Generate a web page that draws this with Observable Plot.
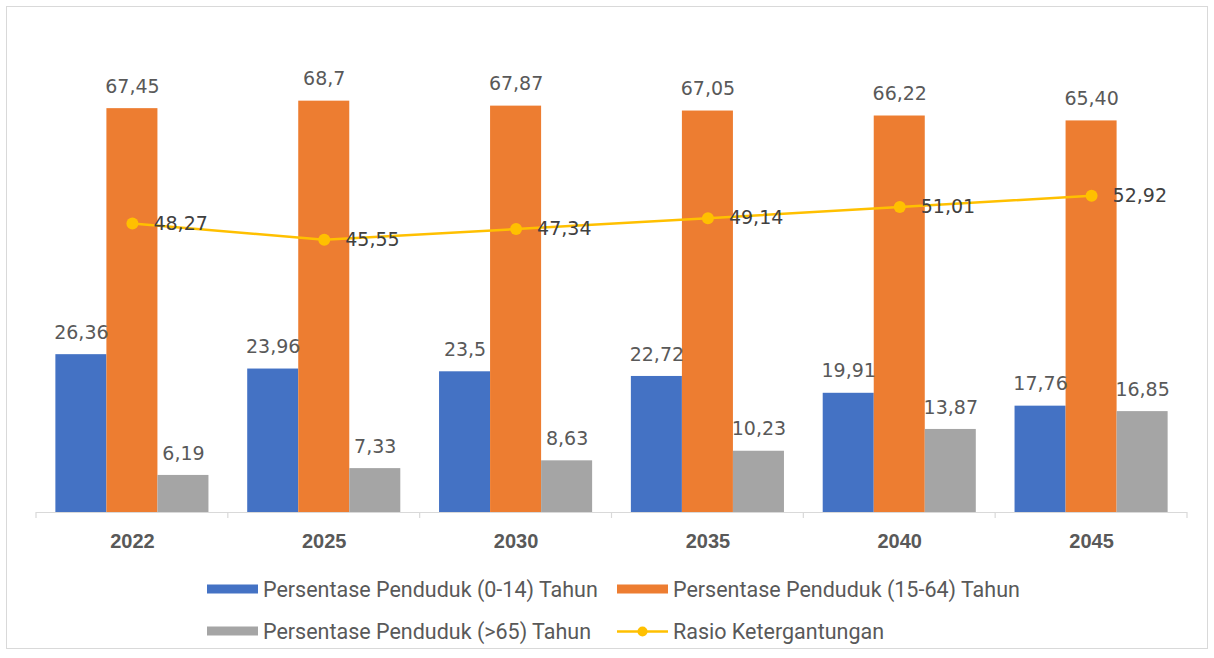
<!DOCTYPE html>
<html>
<head>
<meta charset="utf-8">
<script src="https://cdn.jsdelivr.net/npm/d3@7"></script>
<script src="https://cdn.jsdelivr.net/npm/@observablehq/plot@0.6"></script>
<style>
  html, body { margin: 0; padding: 0; background: #fff; }
  #wrap { position: relative; width: 1214px; height: 658px; overflow: hidden; }
  #frame { position: absolute; left: 6px; top: 6px; width: 1202px; height: 643px; border: 1px solid #d9d9d9; box-sizing: border-box; }
  #chart { position: absolute; left: 0; top: 0; }
  .legend { position: absolute; font-family: "Roboto", sans-serif; font-size: 21.5px; color: #595959; }
  .item { position: absolute; display: flex; align-items: center; white-space: nowrap; transform: translateY(-50%); }
  .sw { width: 51px; height: 9px; margin-right: 5px; }
</style>
</head>
<body>
<div id="wrap">
  <div id="frame"></div>
  <div id="chart"></div>
  <div class="legend" id="legend"></div>
</div>
<script>
const years = ["2022", "2025", "2030", "2035", "2040", "2045"];
const seriesNames = [
  "Persentase Penduduk (0-14) Tahun",
  "Persentase Penduduk (15-64) Tahun",
  "Persentase Penduduk (>65) Tahun"
];
const lineName = "Rasio Ketergantungan";
const young = [26.36, 23.96, 23.5, 22.72, 19.91, 17.76];
const young_labels = ["26,36", "23,96", "23,5", "22,72", "19,91", "17,76"];
const working = [67.45, 68.7, 67.87, 67.05, 66.22, 65.40];
const working_labels = ["67,45", "68,7", "67,87", "67,05", "66,22", "65,40"];
const old = [6.19, 7.33, 8.63, 10.23, 13.87, 16.85];
const old_labels = ["6,19", "7,33", "8,63", "10,23", "13,87", "16,85"];
const ratio = [48.27, 45.55, 47.34, 49.14, 51.01, 52.92];
const ratio_labels = ["48,27", "45,55", "47,34", "49,14", "51,01", "52,92"];
const colors = ["#4472C4", "#ED7D31", "#A5A5A5"];
const lineColor = "#FFC000";

const W = 1214, H = 560, ML = 36, MR = 27, MT = 33, MB = 48;
const bw = (W - ML - MR) / years.length;
const barW = bw * 0.266;
const pad = (bw - 3 * barW) / 2;

const seriesValues = [young, working, old];
const seriesLabels = [young_labels, working_labels, old_labels];
const barData = seriesValues.map((vals, i) => years.map((y, j) => ({year: y, value: vals[j], label: seriesLabels[i][j], series: seriesNames[i]})));
const lineData = years.map((y, j) => ({year: y, value: ratio[j], label: ratio_labels[j]}));

const marks = [];
barData.forEach((d, i) => {
  marks.push(Plot.barY(d, {x: "year", y: "value", fill: colors[i], insetLeft: pad + i * barW, insetRight: pad + (2 - i) * barW}));
});
marks.push(Plot.ruleY([0], {stroke: "#d9d9d9", strokeWidth: 1.2}));
barData.forEach((d, i) => {
  marks.push(Plot.text(d, {x: "year", y: "value", text: "label", dx: (i - 1) * barW, dy: -22, fill: "#595959", fontSize: 19, fontFamily: "DejaVu Sans"}));
});
marks.push(Plot.line(lineData, {x: "year", y: "value", stroke: lineColor, strokeWidth: 2.5}));
marks.push(Plot.dot(lineData, {x: "year", y: "value", fill: lineColor, r: 6}));
marks.push(Plot.text(lineData, {x: "year", y: "value", text: "label", dx: 21, textAnchor: "start", fill: "#404040", fontSize: 19, fontFamily: "DejaVu Sans"}));
marks.push(Plot.axisX({tickSize: 0, tickPadding: 21, fontSize: 20, fontWeight: "bold", fill: "#595959", fontFamily: "Liberation Sans", label: null}));

const chart = Plot.plot({
  width: W, height: H,
  marginLeft: ML, marginRight: MR, marginTop: MT, marginBottom: MB,
  x: {type: "band", domain: years, padding: 0, round: false},
  y: {domain: [0, 80], axis: null},
  style: {background: "transparent", overflow: "visible"},
  marks
});
document.getElementById("chart").appendChild(chart);

// ticks at category boundaries
const xs = chart.scale("x"), ysc = chart.scale("y");
const y0 = ysc.apply(0);
const edges = years.map(y => xs.apply(y)).concat([xs.apply(years[years.length - 1]) + xs.bandwidth]);
d3.select(chart).append("g").selectAll("line").data(edges).join("line")
  .attr("x1", d => d).attr("x2", d => d).attr("y1", y0).attr("y2", y0 + 6)
  .attr("stroke", "#d9d9d9").attr("stroke-width", 1.2);

// legend
const legend = document.getElementById("legend");
const items = [
  {name: seriesNames[0], color: colors[0], type: "bar", left: 207, top: 589},
  {name: seriesNames[1], color: colors[1], type: "bar", left: 617, top: 589},
  {name: seriesNames[2], color: colors[2], type: "bar", left: 207, top: 631},
  {name: lineName, color: lineColor, type: "line", left: 617, top: 631}
];
items.forEach(it => {
  const div = document.createElement("div");
  div.className = "item";
  div.style.left = it.left + "px";
  div.style.top = it.top + "px";
  if (it.type === "bar") {
    const s = document.createElement("span");
    s.className = "sw"; s.style.background = it.color;
    div.appendChild(s);
  } else {
    const s = document.createElementNS("http://www.w3.org/2000/svg", "svg");
    s.setAttribute("width", 51); s.setAttribute("height", 14);
    s.style.marginRight = "5px";
    s.innerHTML = `<line x1="0" x2="51" y1="7" y2="7" stroke="${it.color}" stroke-width="2.5"/><circle cx="25.5" cy="7" r="5" fill="${it.color}"/>`;
    div.appendChild(s);
  }
  const t = document.createElement("span");
  t.textContent = it.name;
  div.appendChild(t);
  legend.appendChild(div);
});
</script>
</body>
</html>
